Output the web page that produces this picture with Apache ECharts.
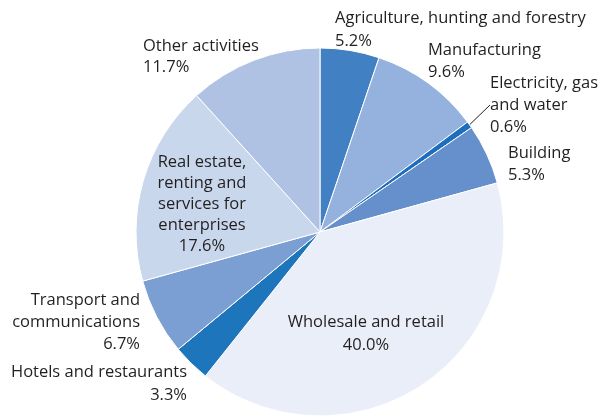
<!DOCTYPE html>
<html>
<head>
<meta charset="utf-8">
<script src="https://cdn.jsdelivr.net/npm/echarts@6/dist/echarts.min.js"></script>
<style>
  html, body { margin: 0; padding: 0; background: #ffffff; }
  #chart { width: 601px; height: 416px; }
</style>
</head>
<body>
<div id="chart"></div>
<script>
// Sectors, clockwise from 12 o'clock
const sectors = [
  'Agriculture, hunting and forestry',
  'Manufacturing',
  'Electricity, gas\nand water',
  'Building',
  'Wholesale and retail',
  'Hotels and restaurants',
  'Transport and\ncommunications',
  'Real estate,\nrenting and\nservices for\nenterprises',
  'Other activities'
];
const shares = [5.2, 9.6, 0.6, 5.3, 40.0, 3.3, 6.7, 17.6, 11.7];
const colors = ['#4280c4', '#95b1dd', '#1d6fbd', '#6590cc', '#e9eef8',
                '#1d75bc', '#7b9fd3', '#c9d7ed', '#afc2e3'];

// Label anchor placement: [x, y(top), align, lineHeight]
const labelSpots = [
  [335, 7, 'left', 23],
  [428, 39, 'left', 22],
  [490, 72, 'left', 22],
  [508, 142, 'left', 22],
  [366, 311, 'center', 23],
  [187, 361, 'right', 23],
  [140, 289, 'right', 22],
  [202, 152, 'center', 21],
  [143, 36, 'left', 21]
];

const chart = echarts.init(document.getElementById('chart'), null, { renderer: 'canvas' });

chart.setOption({
  animation: false,
  series: [{
    type: 'pie',
    center: [320, 232],
    radius: 184,
    startAngle: 90,
    clockwise: true,
    avoidLabelOverlap: false,
    itemStyle: { borderColor: '#ffffff', borderWidth: 1 },
    label: {
      show: true,
      color: '#231f20',
      fontFamily: 'Open Sans',
      fontSize: 16.5,
      formatter: p => p.name + '\n' + p.value.toFixed(1) + '%'
    },
    labelLine: { show: false },
    labelLayout: p => {
      const s = labelSpots[p.dataIndex];
      return { x: s[0], y: s[1], align: s[2], verticalAlign: 'top' };
    },
    emphasis: { disabled: true },
    data: sectors.map((n, i) => ({
      name: n,
      value: shares[i],
      itemStyle: { color: colors[i] },
      label: { lineHeight: labelSpots[i][3] },
      labelLine: i === 2
        ? { show: true, length: 4, length2: 0, lineStyle: { color: '#231f20', width: 1 } }
        : { show: false }
    }))
  }]
});
</script>
</body>
</html>
